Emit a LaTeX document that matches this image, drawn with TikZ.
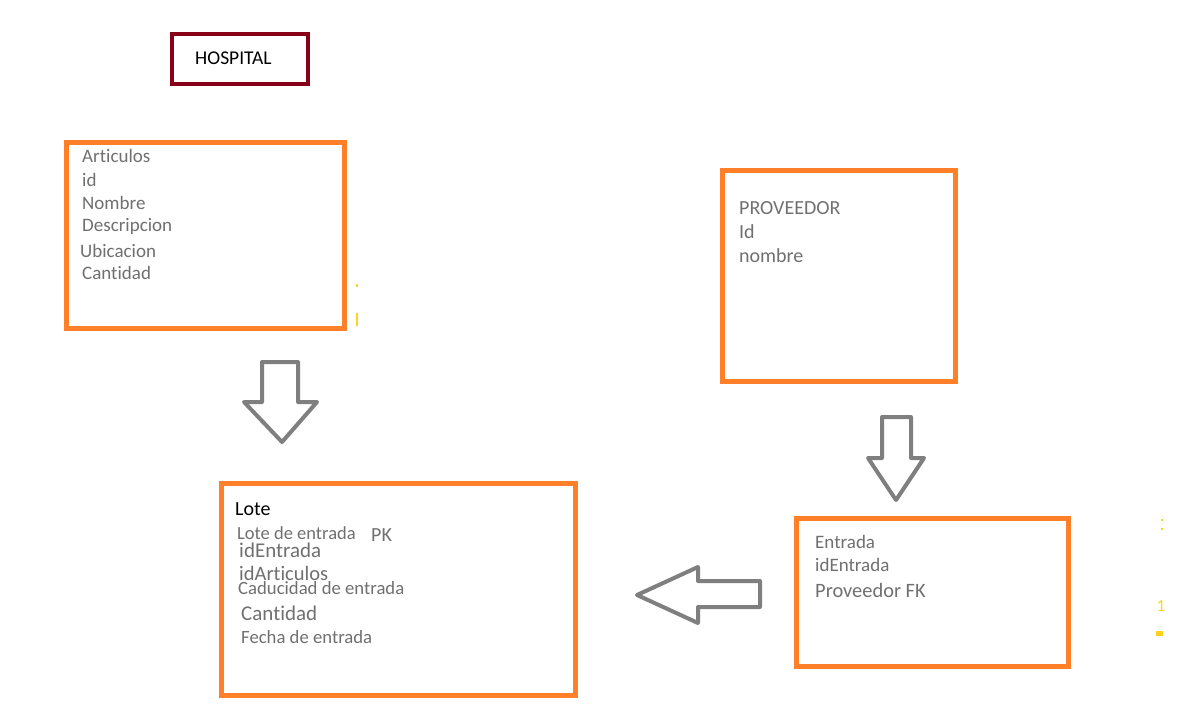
\documentclass[tikz,border=0pt]{standalone}
\usepackage{fontspec}
\setmainfont[Ligatures=NoCommon]{Carlito}
\definecolor{boxorange}{HTML}{FF8028}
\definecolor{hospred}{HTML}{870018}
\definecolor{txtgray}{HTML}{707070}
\definecolor{arrgray}{HTML}{7F7F7F}
\definecolor{marky}{HTML}{FFD21E}
\newcommand{\fsz}[1]{\fontsize{#1}{#1}\selectfont}
\begin{document}
\begin{tikzpicture}[x=1pt,y=-1pt,
  orangebox/.style={draw=boxorange,line width=5pt},
  hospbox/.style={draw=hospred,line width=4pt},
  fieldtext/.style={anchor=west,inner sep=0pt,text=txtgray,font=\fsz{19}},
  titletext/.style={anchor=west,inner sep=0pt,text=black,font=\fsz{19}},
  blockarrow/.style={draw=arrgray,fill=white,line width=4pt,line join=round},
  straymark/.style={draw=marky,line width=2pt}]
\useasboundingbox[fill=white] (0,0) rectangle (1186,712);

% HOSPITAL
\draw[hospbox] (172,34) rectangle (308,84);
\node[titletext,font=\fsz{19.5}] (hosp) at (195,58) {HOSPITAL};

% Articulos
\draw[orangebox] (66.5,142.5) rectangle (344.5,328.5);
\node[fieldtext] (a1) at (82,156) {Articulos};
\node[fieldtext] (a2) at (82,180) {id};
\node[fieldtext] (a3) at (82,203) {Nombre};
\node[fieldtext] (a4) at (82,226) {Descripcion};
\node[fieldtext] (a5) at (80,251) {Ubicacion};
\node[fieldtext] (a6) at (82,273) {Cantidad};

% Proveedor
\draw[orangebox] (722.5,170.5) rectangle (955.5,381.5);
\node[fieldtext,font=\fsz{20}] (p1) at (739,208) {PROVEEDOR};
\node[fieldtext,font=\fsz{20}] (p2) at (739,232) {Id};
\node[fieldtext,font=\fsz{20}] (p3) at (739,256) {nombre};

% Lote
\draw[orangebox] (221.5,483.5) rectangle (575.5,695.5);
\node[titletext,font=\fsz{20}] (l0) at (235,509) {Lote};
\node[fieldtext,font=\fsz{18.5}] (l1) at (237,533) {Lote de entrada};
\node[fieldtext,font=\fsz{20}] (l1b) at (371,535) {PK};
\node[fieldtext,font=\fsz{21}] (l2) at (239,550) {idEntrada};
\node[fieldtext,font=\fsz{20.5}] (l3) at (239,573) {idArticulos};
\node[fieldtext,font=\fsz{18.7}] (l4) at (238,588) {Caducidad de entrada};
\node[fieldtext,font=\fsz{21}] (l5) at (241,613) {Cantidad};
\node[fieldtext,font=\fsz{18.7}] (l6) at (241,637) {Fecha de entrada};

% Entrada
\draw[orangebox] (796.5,518.5) rectangle (1068.5,666.5);
\node[fieldtext] (e1) at (815,542) {Entrada};
\node[fieldtext] (e2) at (815,565) {idEntrada};
\node[fieldtext,font=\fsz{20.4}] (e3) at (815,590) {Proveedor FK};

% Block arrows
\draw[blockarrow] (262,362) -- (298,362) -- (298,402) -- (317,402) -- (282,442) -- (244,402) -- (262,402) -- cycle;
\draw[blockarrow] (882,417) -- (911,417) -- (911,458) -- (924,458) -- (896,500) -- (868,458) -- (882,458) -- cycle;
\draw[blockarrow] (760,581) -- (760,607) -- (698,607) -- (698,623) -- (637,595) -- (698,567) -- (698,581) -- cycle;

% stray yellow marks
\draw[straymark] (357,284) -- (357,287);
\draw[straymark] (357,313) -- (357,326);
\draw[straymark] (1162,519) -- (1162,521);
\draw[straymark] (1162,528) -- (1162,530);
\node[inner sep=0pt,text=marky,font=\fsz{17}] (y1) at (1161,606) {1};
\fill[marky] (1156,631) rectangle (1163,636);
\end{tikzpicture}
\end{document}
